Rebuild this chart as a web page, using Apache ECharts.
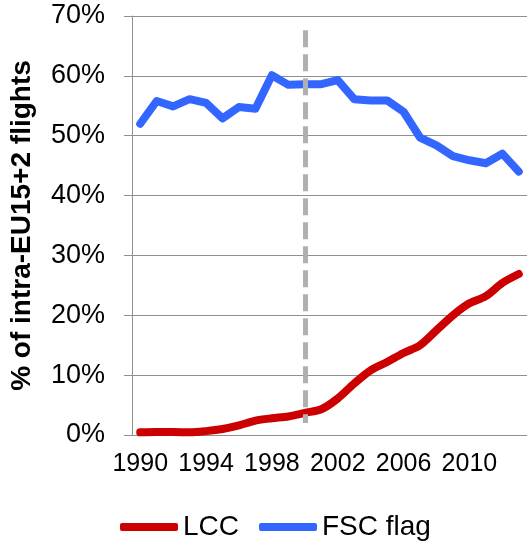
<!DOCTYPE html>
<html>
<head>
<meta charset="utf-8">
<script src="https://cdn.jsdelivr.net/npm/echarts@6/dist/echarts.min.js"></script>
<style>
  html, body { margin: 0; padding: 0; background: #fff; }
  #chart { width: 527px; height: 542px; }
</style>
</head>
<body>
<div id="chart"></div>
<script>
// years on the x axis
var years = [];
for (var y = 1990; y <= 2013; y++) years.push(String(y));

// share of intra-EU15+2 flights, %
var lccShare = [0.45, 0.5, 0.5, 0.45, 0.65, 1.0, 1.6, 2.4, 2.8, 3.1, 3.7, 4.3,
  6.1, 8.6, 10.8, 12.2, 13.7, 15.0, 17.5, 20.0, 22.0, 23.2, 25.4, 26.9];
var fscShare = [52.0, 55.8, 54.9, 56.1, 55.5, 52.9, 54.8, 54.5, 60.1, 58.5, 58.6, 58.6,
  59.3, 56.1, 55.9, 55.9, 54.0, 49.7, 48.4, 46.6, 45.9, 45.4, 47.0, 44.0];

// dashed marker (year, from / to value)
var markerYear = "2000";
var markerRange = [2.0, 67.6];

var font = "Liberation Sans, Arial, sans-serif";
var gridColor = "#8f8f8f";

var chart = echarts.init(document.getElementById("chart"));
var option = {
  animation: false,
  grid: { left: 130, right: 0, top: 16, bottom: 107, containLabel: false },
  legend: {
    left: 115,
    top: 508,
    itemWidth: 58,
    itemHeight: 8,
    itemGap: 20,
    icon: "roundRect",
    textStyle: { fontFamily: font, fontSize: 28, color: "#000" },
    data: ["LCC", "FSC flag"]
  },
  xAxis: {
    type: "category",
    data: years,
    boundaryGap: true,
    axisLine: { lineStyle: { color: gridColor, width: 1 } },
    axisTick: { interval: 0, length: 7, lineStyle: { color: gridColor } },
    axisLabel: { interval: 3, margin: 17, fontFamily: font, fontSize: 25, color: "#000" }
  },
  yAxis: {
    type: "value",
    min: 0,
    max: 70,
    interval: 10,
    name: "% of intra-EU15+2 flights",
    nameLocation: "middle",
    nameGap: 96,
    nameTextStyle: { fontFamily: font, fontSize: 28, fontWeight: "bold", color: "#000" },
    axisLine: { show: true, lineStyle: { color: gridColor, width: 1 } },
    axisTick: { show: true, length: 8, lineStyle: { color: gridColor } },
    splitLine: { lineStyle: { color: gridColor, width: 1 } },
    axisLabel: { margin: 27, formatter: "{value}%", fontFamily: font, fontSize: 27, color: "#000" }
  },
  series: [
    {
      name: "LCC",
      type: "line",
      data: lccShare,
      smooth: 0.3,
      symbol: "none",
      color: "#cc0000",
      lineStyle: { width: 8, color: "#cc0000", cap: "round", join: "round" }
    },
    {
      name: "FSC flag",
      type: "line",
      data: fscShare,
      symbol: "none",
      color: "#3366ff",
      lineStyle: { width: 8, color: "#3366ff", cap: "round", join: "round" }
    },
    {
      name: "marker",
      type: "line",
      data: [],
      z: 10,
      markLine: {
        silent: true,
        symbol: ["none", "none"],
        label: { show: false },
        lineStyle: { color: "#b0b0b0", width: 5, type: [17, 7] },
        data: [[
          { coord: [markerYear, markerRange[1]] },
          { coord: [markerYear, markerRange[0]] }
        ]]
      }
    }
  ]
};
chart.setOption(option);
</script>
</body>
</html>
